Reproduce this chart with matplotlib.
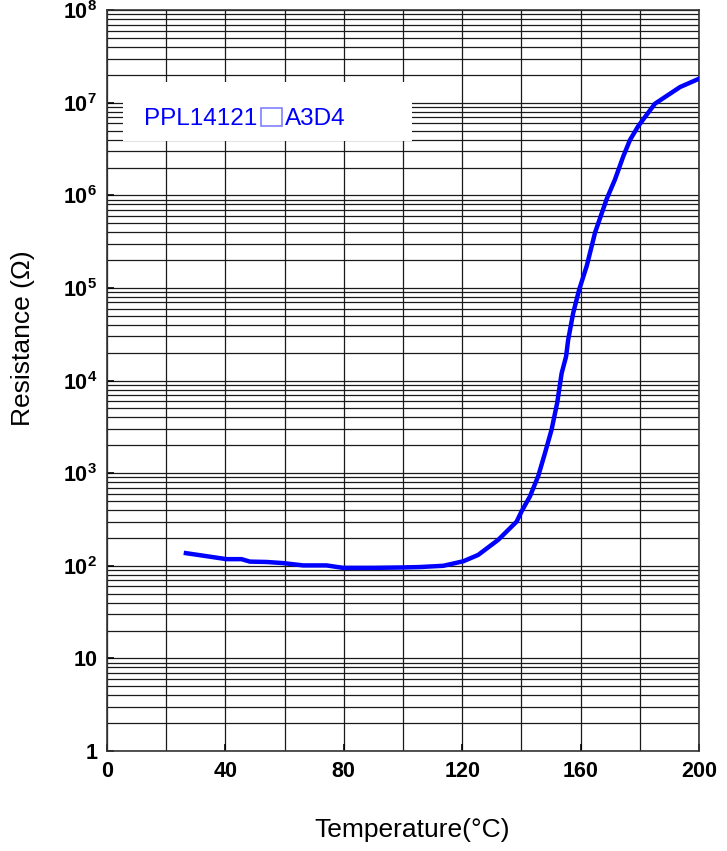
import matplotlib
matplotlib.use("Agg")
import matplotlib.pyplot as plt
from matplotlib.patches import Rectangle
from matplotlib.ticker import FixedLocator, LogLocator, NullFormatter

plt.rcParams['font.family'] = ['Liberation Sans', 'DejaVu Sans']
plt.rcParams['mathtext.fontset'] = 'custom'
plt.rcParams['mathtext.rm'] = 'Liberation Sans'
plt.rcParams['mathtext.bf'] = 'Liberation Sans:bold'

# curve: temperature (degC) and resistance (ohm)
temp = [26.7, 33, 40.4, 45.5, 48.3, 54, 59.5, 66.3, 74.2, 79.8, 90, 100, 105.7,
        113.6, 120.4, 125.4, 132.2, 138.4, 140.1, 142.9, 145.7, 148.0,
        150.2, 152.1, 153.6, 155.1, 155.8, 157.5, 159.5, 162.1, 164.9, 168.8,
        171.6, 174.4, 176.7, 179.5, 185.1, 193.6, 200]
res = [137, 128, 118, 118, 111, 110, 107, 101, 101, 95, 95, 96, 97,
       100, 112, 131, 191, 300, 389, 562, 933, 1660,
       2950, 5750, 12000, 18200, 27500, 53700, 95500, 174000, 398000, 912000,
       1.48e6, 2.63e6, 3.98e6, 5.62e6, 9.77e6, 1.48e7, 1.82e7]

xticks = [0, 40, 80, 120, 160, 200]
yticks = [1, 10, 1e2, 1e3, 1e4, 1e5, 1e6, 1e7, 1e8]
ylabels = ['1', '10'] + [r'$\mathbf{10^{%d}}$' % n for n in range(2, 9)]
part_head = 'PPL14121'
part_tail = 'A3D4'

fig = plt.figure(figsize=(7.27, 8.51), dpi=100)
ax = fig.add_axes([0.147, 0.1175, 0.8145, 0.8705])

ax.set_yscale('log')
ax.set_xlim(0, 200)
ax.set_ylim(1, 1e8)
ax.set_axisbelow(True)

ax.xaxis.set_major_locator(FixedLocator(xticks))
ax.xaxis.set_minor_locator(FixedLocator(range(0, 201, 20)))
ax.set_xticklabels([str(t) for t in xticks], fontweight='bold', fontsize=15.5)
ax.yaxis.set_major_locator(FixedLocator(yticks))
ax.yaxis.set_minor_locator(LogLocator(base=10, subs=range(2, 10), numticks=20))
ax.yaxis.set_minor_formatter(NullFormatter())
ax.set_yticklabels(ylabels, fontweight='bold', fontsize=15.5)

ax.tick_params(axis='both', which='major', direction='in', length=5, width=1.2, pad=7)
ax.tick_params(axis='both', which='minor', length=0)
ax.grid(True, which='both', color='#1a1a1a', linewidth=0.9)

for s in ax.spines.values():
    s.set_color('#333333')
    s.set_linewidth(1.2)

# white label box hiding the grid
ax.add_patch(Rectangle((0.027, 0.823), 0.488, 0.08, transform=ax.transAxes,
                       facecolor='white', edgecolor='none', zorder=1))
t1 = ax.text(0.0625, 0.8535, part_head, transform=ax.transAxes, color='#0000ff',
             fontsize=17.5, va='center', ha='left', zorder=2)

# the empty square between the two parts of the part number
fig.canvas.draw()
bb = t1.get_window_extent()
inv = ax.transAxes.inverted()
sx0 = inv.transform((bb.x1 + 4, 0))[0]
sx1 = inv.transform((bb.x1 + 25, 0))[0]
ax.add_patch(Rectangle((sx0, 0.8435), sx1 - sx0, 0.0243, transform=ax.transAxes,
                       facecolor='none', edgecolor='#8080ff', linewidth=1.2, zorder=2))
ax.text(sx1 + 0.004, 0.8535, part_tail, transform=ax.transAxes, color='#0000ff',
        fontsize=17.5, va='center', ha='left', zorder=2)

ax.plot(temp, res, color='#0000ff', linewidth=3.2, zorder=3)

fig.text(0.567, 0.0247, 'Temperature(\u00b0C)', fontsize=19, ha='center', va='center')
fig.text(0.032, 0.603, 'Resistance (\u03a9)', fontsize=19, rotation=90, ha='center', va='center')

fig.savefig('out.png', dpi=100)
